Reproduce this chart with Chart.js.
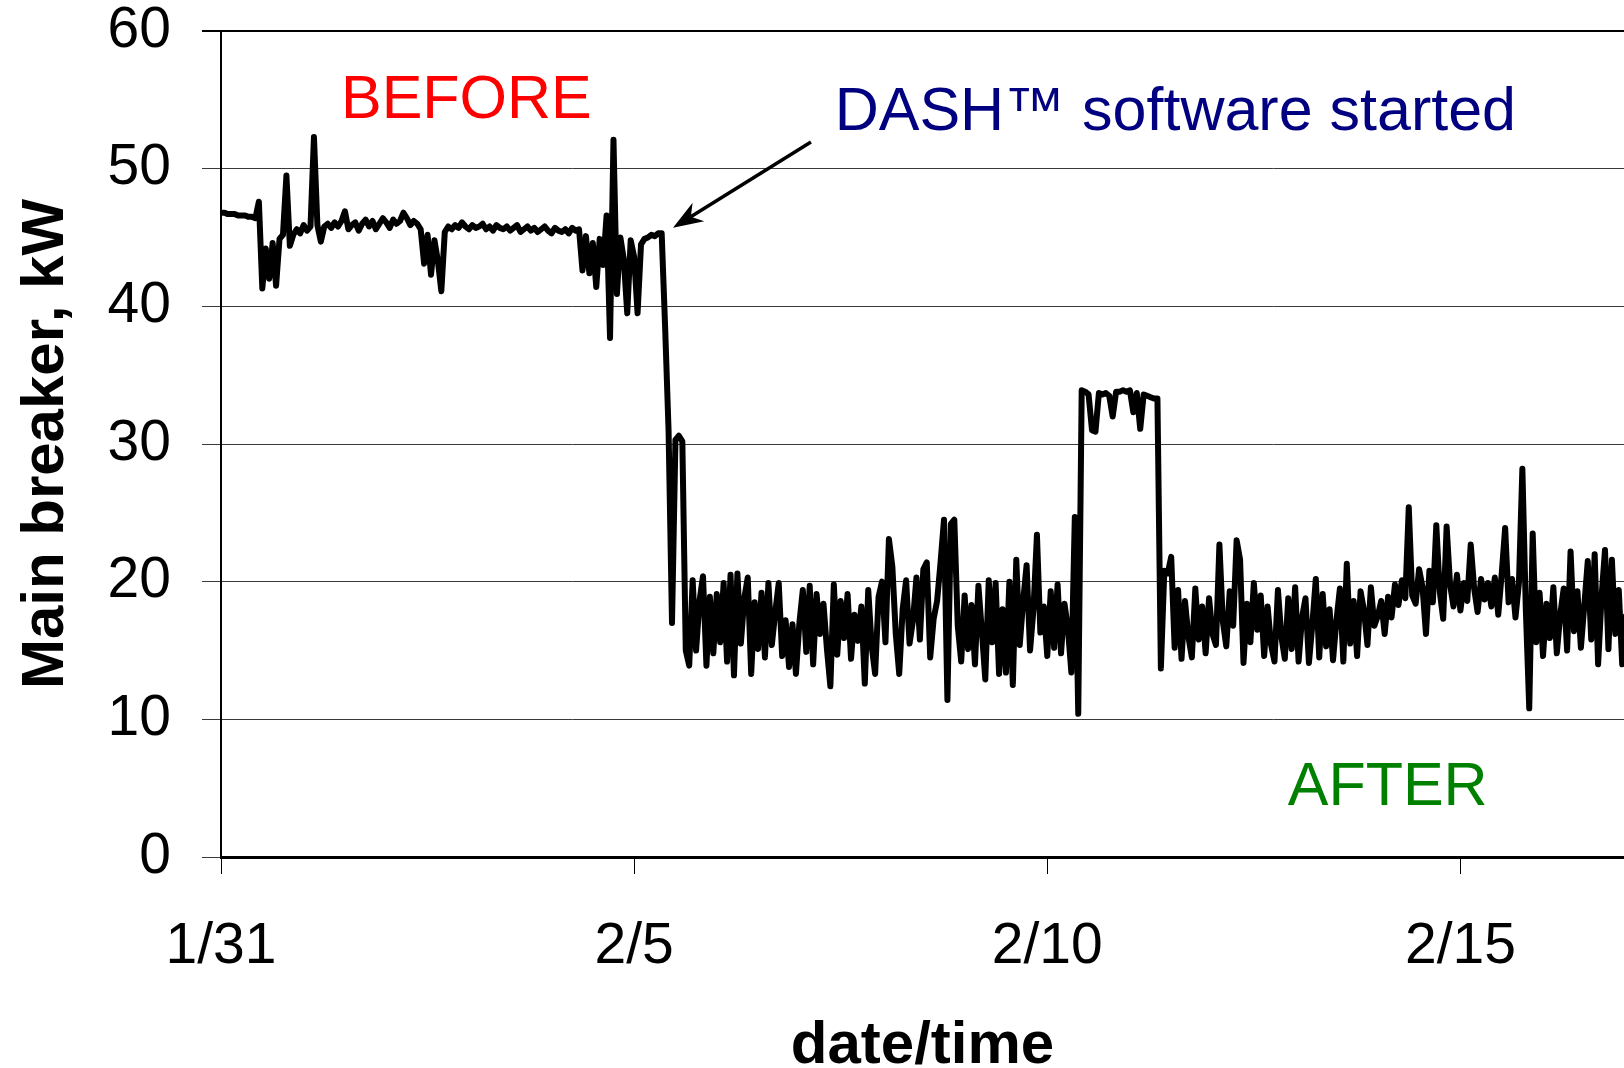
<!DOCTYPE html>
<html>
<head>
<meta charset="utf-8">
<title>Main breaker, kW</title>
<script src="https://cdn.jsdelivr.net/npm/chart.js@4.4.1/dist/chart.umd.min.js"></script>
<style>
  html, body { margin: 0; padding: 0; background: #fff; }
  canvas { display: block; }
</style>
</head>
<body>
<canvas id="breakerChart" width="1624" height="1068"></canvas>
<script>
// ==========================================
//  MAIN BREAKER LOAD, BEFORE / AFTER DASH
// ==========================================

// hourly readings in kW, first one at 1/31 00:00
var kwBefore = [
  46.8, 46.8, 46.7, 46.7, 46.7, 46.6, 46.6, 46.6, 46.5, 46.5,
  46.4, 47.6, 41.3, 44.2, 42.0, 44.6, 41.5, 44.9, 45.2, 49.5,
  44.4, 45.2, 45.6, 45.3, 45.9, 45.5, 45.8, 52.3, 45.9, 44.7, 45.8,
  46.0, 45.7, 46.1, 45.8, 46.2, 46.9, 45.6, 45.9, 46.1, 45.5,
  46.0, 46.3, 45.8, 46.2, 45.6, 46.0, 46.4, 46.1, 45.7, 46.3,
  46.0, 46.2, 46.8, 46.4, 45.9, 46.2, 46.0, 45.6,
  43.1, 45.2, 42.3, 44.8, 43.3, 41.1, 45.4,
  45.8, 45.6, 45.9, 45.7, 46.1, 45.8, 45.6, 45.9, 45.7, 45.8,
  46.0, 45.6, 45.8, 45.5, 45.9, 45.7, 45.6, 45.8, 45.5, 45.7,
  45.9, 45.4, 45.6, 45.8, 45.5, 45.7, 45.4, 45.6, 45.8, 45.5,
  45.3, 45.7, 45.5, 45.4, 45.6, 45.3, 45.7, 45.5, 45.6,
  42.6, 45.1, 42.4, 44.6, 41.4, 44.9, 43.0, 46.6,
  37.7, 52.1, 40.9, 45.0, 43.4, 39.5, 44.8, 43.6, 39.5, 44.5,
  44.9, 45.0, 45.2, 45.1, 45.3, 45.3
];

// software switched on
var kwDrop = [38.5, 31.0, 17.0, 30.3, 30.6, 30.2, 15.0];

var kwAfter = [
  13.9, 20.1, 15.0, 18.6, 20.4, 13.9, 18.9, 14.8, 19.1, 15.6,
  19.9, 14.2, 20.5, 13.2, 20.6, 15.5, 18.8, 20.3, 13.3, 18.5,
  15.1, 19.2, 14.5, 19.9, 15.4, 17.8, 19.9, 14.6, 17.2, 13.8,
  16.9, 13.3, 17.0, 19.4, 14.9, 19.7, 14.0, 19.1, 16.2, 18.4,
  15.1, 12.4, 19.8, 14.7, 18.6, 15.9, 19.1, 14.4, 17.6, 15.7,
  18.2, 12.6, 19.4, 15.3, 13.3, 18.9,
  20.0, 15.6, 23.1, 21.1, 16.2, 13.3, 18.0, 20.1, 15.5, 17.2,
  20.3, 15.8, 20.9, 21.4, 14.5, 17.3, 18.6, 21.4,
  24.5, 11.4, 24.2, 24.5, 16.8, 14.2, 19.0, 15.1, 18.3, 14.0,
  19.7, 16.4, 12.9, 20.1, 15.6, 19.9, 13.3, 18.0, 13.4, 20.0,
  12.5, 21.6, 15.4, 18.6, 21.2, 15.0, 18.0, 23.4, 16.3, 18.2,
  14.6, 19.3, 15.2, 19.8, 14.8, 18.4, 16.6, 13.4, 24.7, 10.4
];

// the day it was switched off again
var kwPlateau = [
  33.9, 33.8, 33.6, 31.0, 30.9, 33.7, 33.6, 33.7, 33.5, 32.0,
  33.8, 33.8, 33.9, 33.8, 33.9, 32.3, 33.7, 31.1, 33.6, 33.5,
  33.4, 33.3, 33.3
];

var kwLate = [
  13.7, 20.8, 20.6, 21.8, 15.2, 19.4, 14.4, 18.6, 16.0, 14.5,
  19.5, 15.8, 18.2, 14.8, 18.8, 16.2, 15.4, 22.7, 17.1, 15.3,
  19.3, 16.8, 23.0, 21.6, 14.1, 18.4, 15.6, 19.9,
  16.5, 19.0, 14.6, 18.2, 15.4, 14.2, 19.4, 16.0, 14.4, 18.8,
  15.1, 19.6, 14.2, 17.4, 18.8, 14.1, 16.9, 20.2, 14.5, 19.1,
  15.3, 18.0, 14.3, 17.2, 19.5, 14.2, 21.3, 15.5, 18.6, 14.6,
  19.3, 17.9, 15.4, 19.6, 16.8, 17.5, 18.6, 16.2, 18.9, 17.4,
  19.8, 18.3, 20.1, 18.8, 25.4, 19.0, 18.4, 20.9, 19.6, 16.2,
  20.8, 18.5, 24.1, 19.3, 17.3, 24.0, 19.8, 18.2, 20.5, 17.9,
  19.9, 18.6, 22.7, 19.5, 17.8, 20.2, 18.7, 19.9, 18.2, 20.3,
  17.6, 20.6, 23.9, 18.5, 20.2, 17.4, 19.9, 28.2, 18.0, 10.8, 23.5,
  15.6, 19.2, 14.6, 18.4, 15.9, 19.6, 14.8, 17.6, 19.5, 15.0,
  22.2, 16.4, 19.3, 15.2, 18.3, 21.5, 15.8, 22.0, 14.0, 18.9,
  22.3, 15.1, 21.6, 16.2, 19.4, 14.0, 17.5
];

var tickDays   = [0, 5, 10, 15];
var tickLabels = ['1/31', '2/5', '2/10', '2/15'];

(function () {
  'use strict';

  var FONT_FAMILY = '"Liberation Sans", Arial, Helvetica, sans-serif';
  var HOURS_PER_DAY = 24;

  var kw = [].concat(kwBefore, kwDrop, kwAfter, kwPlateau, kwLate);
  var points = kw.map(function (v, i) { return { x: i / HOURS_PER_DAY, y: v }; });

  // === CALLOUTS ===
  var NOTES = [
    { text: 'BEFORE',                      day: 2.97,  kw: 54.88, color: '#ff0000' },
    { text: 'DASH\u2122 software started', day: 11.55, kw: 54.0,  color: '#000080' },
    { text: 'AFTER',                       day: 14.12, kw: 4.97,  color: '#008000' }
  ];
  var ARROW = { fromDay: 7.14, fromKw: 51.94, toDay: 5.47, toKw: 45.70 };

  var calloutPlugin = {
    id: 'callouts',
    afterDatasetsDraw: function (chart) {
      var ctx = chart.ctx;
      var xs = chart.scales.x, ys = chart.scales.y;
      ctx.save();
      ctx.font = '61px ' + FONT_FAMILY;
      ctx.textAlign = 'center';
      ctx.textBaseline = 'middle';
      NOTES.forEach(function (n) {
        ctx.fillStyle = n.color;
        ctx.fillText(n.text, xs.getPixelForValue(n.day), ys.getPixelForValue(n.kw));
      });

      var x0 = xs.getPixelForValue(ARROW.fromDay), y0 = ys.getPixelForValue(ARROW.fromKw);
      var x1 = xs.getPixelForValue(ARROW.toDay),   y1 = ys.getPixelForValue(ARROW.toKw);
      var ang = Math.atan2(y1 - y0, x1 - x0);
      var len = 30, half = 11;
      var bx = x1 - len * Math.cos(ang), by = y1 - len * Math.sin(ang);
      var nx = x1 - len * 0.7 * Math.cos(ang), ny = y1 - len * 0.7 * Math.sin(ang);

      ctx.strokeStyle = '#000';
      ctx.lineWidth = 3.5;
      ctx.beginPath();
      ctx.moveTo(x0, y0);
      ctx.lineTo(nx, ny);
      ctx.stroke();

      ctx.fillStyle = '#000';
      ctx.beginPath();
      ctx.moveTo(x1, y1);
      ctx.lineTo(bx + half * Math.sin(ang), by - half * Math.cos(ang));
      ctx.lineTo(nx, ny);
      ctx.lineTo(bx - half * Math.sin(ang), by + half * Math.cos(ang));
      ctx.closePath();
      ctx.fill();
      ctx.restore();
    }
  };

  new Chart(document.getElementById('breakerChart'), {
    type: 'line',
    data: {
      datasets: [{
        data:            points,
        borderColor:     '#000',
        borderWidth:     6,
        borderJoinStyle: 'round',
        borderCapStyle:  'round',
        pointRadius:     0,
        tension:         0,
        fill:            false
      }]
    },
    options: {
      responsive:       false,
      animation:        false,
      devicePixelRatio: 1,
      layout: { padding: { top: 31, right: 0, bottom: 0, left: 0 } },
      plugins: {
        legend:  { display: false },
        tooltip: { enabled: false }
      },
      scales: {
        x: {
          type: 'linear',
          min:  0,
          max:  16.98,
          afterFit: function (s) { s.height = 211; s.paddingLeft = 0; s.paddingRight = 0; },
          ticks: {
            stepSize:      5,
            includeBounds: false,
            autoSkip:      false,
            maxRotation:   0,
            padding:       45,
            color:         '#000',
            font:          { family: FONT_FAMILY, size: 57, lineHeight: 1 },
            callback: function (v) {
              var i = tickDays.indexOf(v);
              return i >= 0 ? tickLabels[i] : null;
            }
          },
          grid:   { drawOnChartArea: false, drawTicks: true, tickLength: 17, color: '#000', lineWidth: 1 },
          border: { color: '#000', width: 3 },
          title: {
            display: true,
            text:    'date/time',
            color:   '#000',
            padding: { top: 0, bottom: 0 },
            font:    { family: FONT_FAMILY, size: 60, weight: 'bold', lineHeight: 0.72 }
          }
        },
        y: {
          min: 0,
          max: 60,
          // fixed gutter; no extra room above the plot for the top label
          afterFit: function (s) { s.width = 221; s.paddingTop = 0; s.paddingBottom = 0; },
          ticks: {
            stepSize: 10,
            padding:  31,
            color:    '#000',
            font:     { family: FONT_FAMILY, size: 57, lineHeight: 1 }
          },
          grid: {
            tickLength: 19,
            color:      function (c) { return c.tick && c.tick.value === 60 ? '#000' : '#3a3a3a'; },
            lineWidth:  function (c) { return c.tick && c.tick.value === 60 ? 2 : 1; }
          },
          border: { color: '#000', width: 2 },
          title: {
            display: true,
            text:    'Main breaker, kW',
            color:   '#000',
            padding: { top: 16, bottom: 0 },
            font:    { family: FONT_FAMILY, size: 60, weight: 'bold', lineHeight: 1 }
          }
        }
      }
    },
    plugins: [calloutPlugin]
  });
}());
</script>
</body>
</html>
